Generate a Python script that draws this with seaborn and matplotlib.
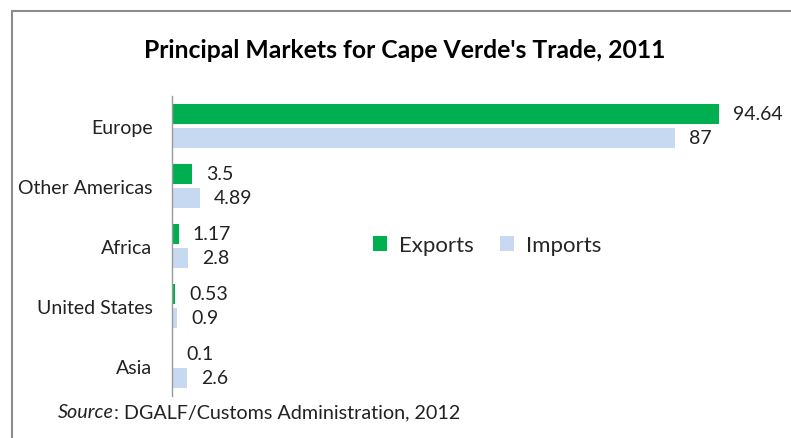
import numpy as np
import pandas as pd
import seaborn as sns
import matplotlib
matplotlib.use("Agg")
import matplotlib.pyplot as plt
from matplotlib.lines import Line2D

regions = ["Europe", "Other Americas", "Africa", "United States", "Asia"]
exports = [94.64, 3.5, 1.17, 0.53, 0.1]
imports = [87, 4.89, 2.8, 0.9, 2.6]

df = pd.DataFrame({"region": regions * 2,
                   "value": exports + imports,
                   "flow": ["Exports"] * len(regions) + ["Imports"] * len(regions)})

sns.set_theme(style="white")
plt.rcParams["font.family"] = ["Lato", "DejaVu Sans"]

fig = plt.figure(figsize=(7.91, 4.39), dpi=100)
ax = fig.add_axes([172 / 791, 1 - 397 / 439, (750 - 172) / 791, 300 / 439])

sns.barplot(data=df, x="value", y="region", hue="flow", order=regions,
            hue_order=["Exports", "Imports"], palette=["#00B050", "#C6D9F1"],
            saturation=1, orient="h", width=0.8, linewidth=0, ax=ax)

# thin the bars a little so there is a gap between the pair
for p in ax.patches:
    h = p.get_height()
    p.set_y(p.get_y() + h * 0.08)
    p.set_height(h * 0.84)

for cont in ax.containers:
    ax.bar_label(cont, labels=[f"{v:g}" for v in cont.datavalues],
                 padding=10, fontsize=14, color="#222222")

ax.set_xlim(0, 100)
ax.set_xlabel("")
ax.set_ylabel("")
ax.set_xticks([])
ax.tick_params(axis="y", length=0, pad=14, labelsize=14, labelcolor="#222222")
for s in ["top", "right", "bottom"]:
    ax.spines[s].set_visible(False)
ax.spines["left"].set_color("#999999")
ax.spines["left"].set_linewidth(1.0)

ax.legend(ncol=2, loc="center", bbox_to_anchor=(487 / 791, 1 - 246 / 439),
          bbox_transform=fig.transFigure, frameon=False, fontsize=16,
          handlelength=0.65, handleheight=0.65, columnspacing=1.2, handletextpad=0.5)

fig.text(405 / 791, 1 - 50 / 439, "Principal Markets for Cape Verde's Trade, 2011",
         ha="center", va="center", fontsize=17.8, fontweight="bold", color="black")
src = fig.text(58 / 791, 1 - 413 / 439, "Source", ha="left", va="center",
               fontsize=14.2, style="italic", color="#222222")
fig.canvas.draw()
bb = src.get_window_extent()
fig.text(bb.x1 / 791, 1 - 413 / 439, ": DGALF/Customs Administration, 2012",
         ha="left", va="center", fontsize=14.2, color="#222222")

fig.add_artist(Line2D([12 / 791, 1], [1 - 12 / 439, 1 - 12 / 439],
                      color="#8c8c8c", lw=1.5, transform=fig.transFigure))
fig.add_artist(Line2D([12 / 791, 12 / 791], [0, 1 - 12 / 439],
                      color="#8c8c8c", lw=1.5, transform=fig.transFigure))

fig.savefig("out.png", dpi=100)
